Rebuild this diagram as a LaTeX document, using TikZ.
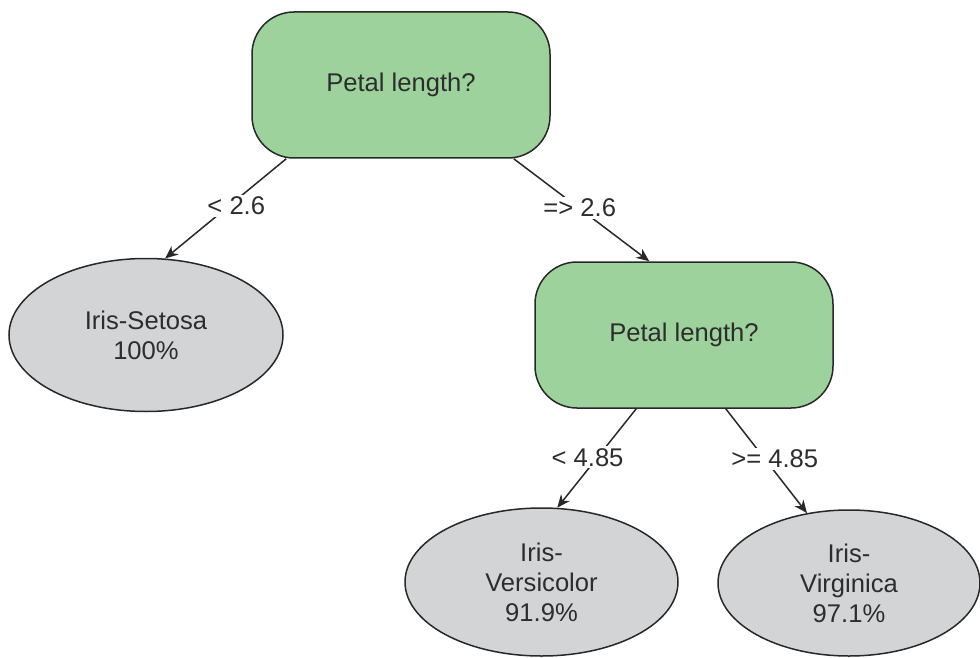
\documentclass[tikz,border=0pt]{standalone}
\usepackage{fontspec}
\setmainfont{Liberation Sans}
\usetikzlibrary{shapes.geometric,arrows.meta,calc}
\definecolor{qgreen}{RGB}{157,210,157}
\definecolor{lgray}{RGB}{211,212,214}
\definecolor{edgec}{RGB}{40,40,40}
\definecolor{txtc}{RGB}{45,45,45}
\begin{document}
\begin{tikzpicture}[x=1pt,y=-1pt,
  every node/.style={font=\fontsize{25.6}{30}\selectfont, text=txtc},
  question/.style={draw=edgec, line width=1.5pt, fill=qgreen, rounded corners=42pt,
    minimum width=298pt, minimum height=146pt, inner sep=0pt},
  leaf/.style={draw=edgec, line width=1.5pt, fill=lgray, ellipse, inner sep=0pt,
    align=center},
  conn/.style={draw=edgec, line width=1.5pt, -{Stealth[length=13pt,width=11pt]}},
  lbl/.style={fill=white, inner sep=2pt}
]
\useasboundingbox (0,0) rectangle (980,658);
\node[question] (q1) at (401,85) {Petal length?};
\node[question] (q2) at (684,335) {Petal length?};
\node[leaf, minimum width=274pt, minimum height=153pt] (setosa) at (146,335) {Iris-Setosa\\100\%};
\node[leaf, minimum width=273pt, minimum height=148pt] (versi) at (541.5,582) {Iris-\\Versicolor\\91.9\%};
\node[leaf, minimum width=262pt, minimum height=146pt] (virg) at (849,583) {Iris-\\Virginica\\97.1\%};

\coordinate (s1) at ($(q1.south west)+(35,0)$);
\coordinate (s2) at ($(q1.south east)+(-37,0)$);
\coordinate (s3) at ($(q2.south west)+(102,0)$);
\coordinate (s4) at ($(q2.south east)+(-108,0)$);
\coordinate (t2) at ($(q2.north west)+(115,0)$);

\draw[conn] (s1) -- node[lbl, pos=0.47, xshift=7pt] {< 2.6} (setosa.76);
\draw[conn] (s2) -- node[lbl, pos=0.48, xshift=1pt] {=> 2.6} (t2);
\draw[conn] (s3) -- node[lbl, pos=0.49, xshift=-10pt] {< 4.85} (versi.78);
\draw[conn] (s4) -- node[lbl, pos=0.48, xshift=10pt] {>= 4.85} (virg.121);
\end{tikzpicture}
\end{document}
